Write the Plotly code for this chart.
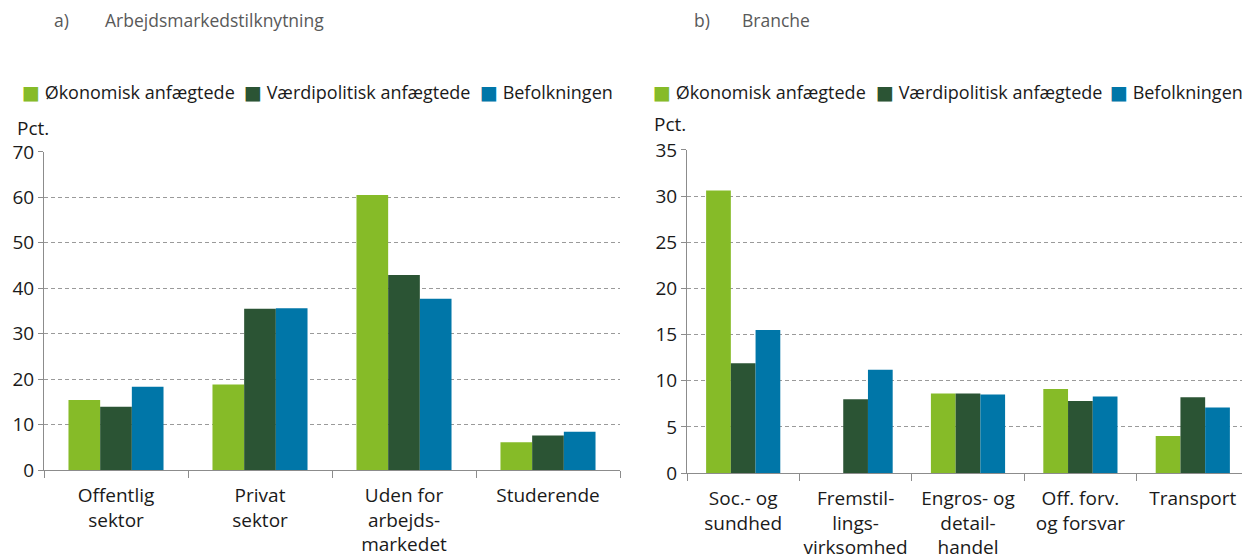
import plotly.graph_objects as go

# series names and colours
series = ["Økonomisk anfægtede", "Værdipolitisk anfægtede", "Befolkningen"]
colors = ["#86BB28", "#2B5434", "#0076A8"]

# panel a) Arbejdsmarkedstilknytning
cats_a = ["Offentlig<br>sektor", "Privat<br>sektor", "Uden for<br>arbejds-<br>markedet", "Studerende"]
okonomisk_a = [15.4, 18.8, 60.5, 6.1]
vaerdi_a = [13.9, 35.5, 42.9, 7.6]
befolk_a = [18.3, 35.6, 37.7, 8.4]

# panel b) Branche
cats_b = ["Soc.- og<br>sundhed", "Fremstil-<br>lings-<br>virksomhed", "Engros- og<br>detail-<br>handel",
          "Off. forv.<br>og forsvar", "Transport"]
okonomisk_b = [30.6, None, 8.6, 9.1, 4.0]
vaerdi_b = [11.9, 8.0, 8.6, 7.8, 8.2]
befolk_b = [15.5, 11.2, 8.5, 8.3, 7.1]

W, H = 1250, 558
OFF = 8  # the page body margin shifts the plot div by 8px
FONT = "Open Sans, DejaVu Sans, sans-serif"


def px(x):
    return (x - OFF) / W


def py(y):
    return 1 - (y - OFF) / H


fig = go.Figure()

for name, col, vals in zip(series, colors, [okonomisk_a, vaerdi_a, befolk_a]):
    fig.add_trace(go.Bar(x=cats_a, y=vals, name=name, marker=dict(color=col, line_width=0),
                         xaxis="x", yaxis="y", showlegend=False))
for name, col, vals in zip(series, colors, [okonomisk_b, vaerdi_b, befolk_b]):
    fig.add_trace(go.Bar(x=cats_b, y=vals, name=name, marker=dict(color=col, line_width=0),
                         xaxis="x2", yaxis="y2", showlegend=False))

xax = dict(showgrid=False, showline=True, linecolor="#8c8c8c", linewidth=1, automargin=False,
           ticks="outside", tickson="boundaries", ticklen=7, tickcolor="#8c8c8c",
           tickangle=0, ticklabelstandoff=8,
           tickfont=dict(family=FONT, size=19, color="#1a1a1a"), fixedrange=True)
yax = dict(showgrid=True, gridcolor="#9a9a9a", griddash="4px,3px", gridwidth=1,
           showline=True, linecolor="#8c8c8c", linewidth=1, zeroline=False, automargin=False,
           ticks="outside", ticklen=5, tickcolor="#8c8c8c",
           tickfont=dict(family=FONT, size=19, color="#1a1a1a"))

fig.update_layout(
    width=W, height=H,
    margin=dict(l=0, r=0, t=0, b=0, pad=0),
    paper_bgcolor="white", plot_bgcolor="white",
    barmode="group", bargap=0.34, bargroupgap=0,
    font=dict(family=FONT, size=19, color="#1a1a1a"),
    xaxis=dict(xax, domain=[px(44), px(620)], anchor="y"),
    yaxis=dict(yax, domain=[py(470), py(151.5)], range=[0, 70.1], tickvals=list(range(0, 71, 10)), anchor="x"),
    xaxis2=dict(xax, domain=[px(687), px(1249)], anchor="y2"),
    yaxis2=dict(yax, domain=[py(473), py(149.5)], range=[0, 35.05], tickvals=list(range(0, 36, 5)), anchor="x2"),
)

ann = []


def text(x, y, s, size=19, color="#1a1a1a"):
    ann.append(dict(x=px(x), y=py(y), xref="paper", yref="paper", text=s, showarrow=False,
                    xanchor="left", yanchor="middle", font=dict(family=FONT, size=size, color=color)))


# panel titles
text(52, 20, "a)", 17.5, "#595959")
text(103, 20, "Arbejdsmarkedstilknytning", 17.5, "#595959")
text(692, 20, "b)", 17.5, "#595959")
text(740, 20, "Branche", 17.5, "#595959")

# unit labels
text(15, 128, "Pct.")
text(652, 124, "Pct.")

# legends (one row above each panel)
leg_starts = [(20, 242, 478), (651, 874, 1108)]
for starts in leg_starts:
    for x0, name, col in zip(starts, series, colors):
        text(x0, 92, f'<span style="color:{col};font-size:19px">■</span> {name}', 18)

fig.update_layout(annotations=ann)

fig.write_html("out.html")
